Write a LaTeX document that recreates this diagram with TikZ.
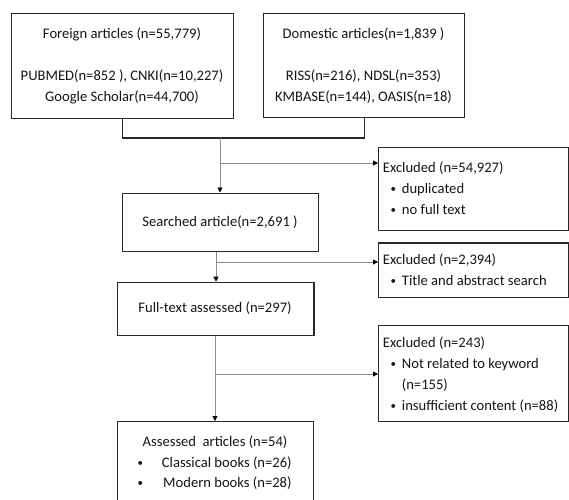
\documentclass[tikz,border=0pt]{standalone}
\usepackage{fontspec}
\setmainfont{Carlito}
\usetikzlibrary{arrows.meta}
\definecolor{boxc}{RGB}{40,40,40}
\definecolor{linec}{RGB}{140,140,140}
\definecolor{txtc}{RGB}{20,20,20}
\newcommand{\dotb}{\raisebox{1pt}{\scalebox{0.75}{•}}}
\newcommand{\bul}{\hspace*{7.8pt}\makebox[11.2pt][l]{\dotb}}
\begin{document}
\begin{tikzpicture}[x=1pt,y=-1pt,
  box/.style={draw=boxc, line width=1.2pt, inner sep=0pt, anchor=north west},
  txt/.style={text=txtc, font=\fontsize{14.6}{21}\selectfont, inner sep=0pt},
  conn/.style={draw=linec, line width=0.9pt},
  bracket/.style={draw=boxc, line width=1.1pt},
  arr/.style={conn, -{Triangle[length=5pt,width=5pt,color=black]}}]
\clip (0,0) rectangle (569,499);
% boxes
\node[box, minimum width=222.3pt, minimum height=105pt] (b1) at (10.7,12.5) {};
\node[box, minimum width=201pt, minimum height=104.5pt] (b2) at (263,12.5) {};
\node[box, minimum width=189.5pt, minimum height=83pt] (e1) at (378,147) {};
\node[box, minimum width=196.3pt, minimum height=58.5pt] (s) at (121.7,192.5) {};
\node[box, minimum width=189.5pt, minimum height=54.4pt] (e2) at (378,242.3) {};
\node[box, minimum width=196.6pt, minimum height=53.3pt] (f) at (116.7,281.7) {};
\node[box, minimum width=189.5pt, minimum height=96pt] (e3) at (378,325) {};
\node[box, minimum width=196.3pt, minimum height=100pt] (a) at (116.7,421) {};
% texts
\node[txt, align=center] (b1t) at (122,65.5) {Foreign articles (n=55,779)\\[21pt]PUBMED(n=852 ), CNKI(n=10,227)\\Google Scholar(n=44,700)};
\node[txt, align=center] (b2t) at (363.5,65.5) {Domestic articles(n=1,839 )\\[21pt]RISS(n=216), NDSL(n=353)\\KMBASE(n=144), OASIS(n=18)};
\node[txt] (st) at (220,222.5) {Searched article(n=2,691 )};
\node[txt] (ft) at (215,308.5) {Full-text assessed (n=297)};
\node[txt, align=left, anchor=west] (e1t) at (382.7,188.5) {Excluded (n=54,927)\\\bul duplicated\\\bul no full text};
\node[txt, align=left, anchor=west] (e2t) at (382.7,269.5) {Excluded (n=2,394)\\\bul Title and abstract search};
\node[txt, align=left, anchor=west] (e3t) at (382.7,374.5) {Excluded (n=243)\\\bul Not related to keyword\\\hspace*{19pt}(n=155)\\\bul insufficient content (n=88)};
\node[txt] (at) at (215,441.7) {Assessed~ articles (n=54)};
\node[txt, anchor=west] (a1) at (137.5,463) {\makebox[24.2pt][l]{\dotb}Classical books (n=26)};
\node[txt, anchor=west] (a2) at (137.5,483.3) {\makebox[25.5pt][l]{\dotb}Modern books (n=28)};
% connectors
\coordinate (jn) at (220,138);
\coordinate (br1) at (220,163);
\coordinate (br2) at (216,262);
\coordinate (br3) at (215,374);
\draw[bracket] (b1.south) |- (jn) -| (b2.south);
\draw[arr] (jn) -- (jn |- s.north);
\draw[arr] (br1) -- (br1 -| e1.west);
\draw[arr] (br2 |- s.south) -- (br2 |- f.north);
\draw[arr] (br2) -- (br2 -| e2.west);
\draw[arr] (br3 |- f.south) -- (br3 |- a.north);
\draw[arr] (br3) -- (br3 -| e3.west);
\end{tikzpicture}
\end{document}
